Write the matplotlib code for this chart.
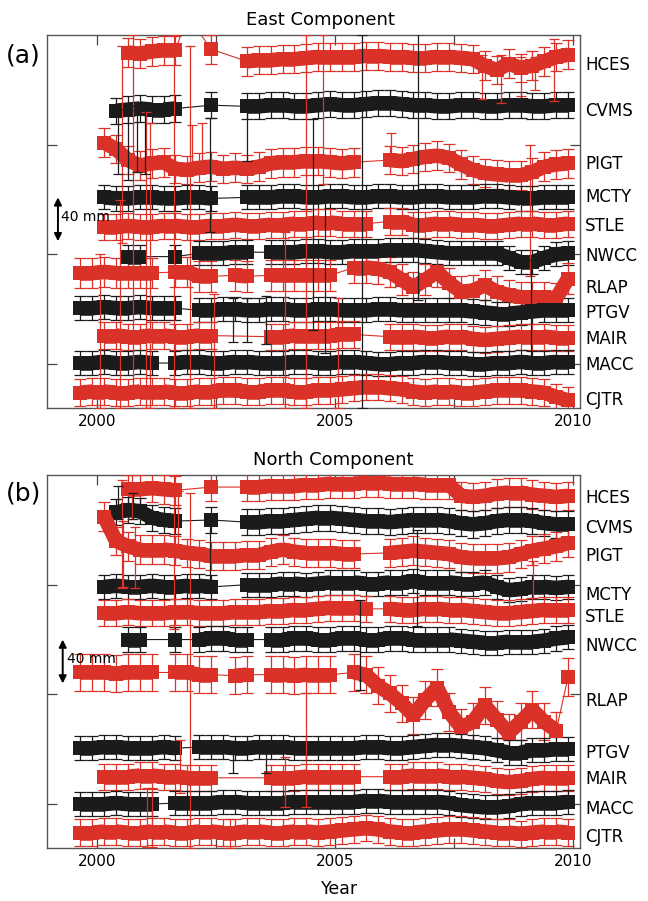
import matplotlib.pyplot as plt
import numpy as np
from matplotlib.collections import LineCollection
from matplotlib.transforms import blended_transform_factory

N = None

# common epochs of the plotted daily-solution blocks (decimal year)
epochs = [1999.40, 1999.65, 1999.90, 2000.15, 2000.40, 2000.65, 2000.90, 2001.15, 2001.40, 2001.65, 2001.90,
          2002.15, 2002.40, 2002.65, 2002.90, 2003.15, 2003.40, 2003.65, 2003.90, 2004.15, 2004.40, 2004.65,
          2004.90, 2005.15, 2005.40, 2005.65, 2005.90, 2006.15, 2006.40, 2006.65, 2006.90, 2007.15, 2007.40,
          2007.65, 2007.90, 2008.15, 2008.40, 2008.65, 2008.90, 2009.15, 2009.40, 2009.65, 2009.90]

stations = ['HCES', 'CVMS', 'PIGT', 'MCTY', 'STLE', 'NWCC', 'RLAP', 'PTGV', 'MAIR', 'MACC', 'CJTR']
station_colors = ['r', 'k', 'r', 'k', 'r', 'k', 'r', 'k', 'r', 'k', 'r']

# typical formal error of a block (mm)
east_sigma = [13, 12, 13, 11, 12, 11, 14, 11, 12, 11, 12]
north_sigma = [13, 12, 13, 11, 12, 11, 17, 11, 12, 11, 12]

# ---- East component (offset time series, mm) ----
hces_e = [N, N, N, N, N, 284, 283, 285, 286, 286, 318,
          N, 287, N, N, 276, 277, 277, 278, 278, 279, 280,
          280, 280, 280, 281, 281, 280, 280, 279, 279, 280, 280,
          279, 278, 272, 268, 274, 270, 272, 276, 280, 282]
cvms_e = [N, N, N, N, 231, 232, 233, 232, 232, 233, N,
          N, 236, N, N, 235, 235, 236, 236, 235, 235, 236,
          237, 236, 236, 237, 238, 238, 237, 236, 236, 235, 235,
          236, 236, 235, 235, 236, 236, 235, 235, 236, 236]
pigt_e = [N, N, N, 202, 196, 186, 181, 183, 184, 178, 177,
          179, 180, 178, 179, 178, 180, 183, 184, 184, 185, 185,
          184, 183, 184, N, N, 186, 185, 187, 189, 190, 188,
          182, 177, 174, 173, 172, 172, 175, 180, 182, 183]
mcty_e = [N, N, N, 152, 151, 151, 152, 152, 151, 151, 152,
          152, 151, N, N, 152, 152, 152, 153, 153, 152, 152,
          153, 153, 152, 152, 153, 153, 152, 152, 153, 153, 152,
          152, 152, 153, 153, 152, 151, 151, 152, 152, 152]
stle_e = [N, N, N, 125, 125, 126, 125, 125, 126, 126, 125,
          125, 126, 126, 127, 126, 126, 127, 127, 128, 128, 129,
          129, 128, 128, 128, N, 130, 130, 127, 127, 128, 128,
          127, 127, 126, 126, 127, 128, 128, 127, 127, 128]
nwcc_e = [N, N, N, N, N, 98, 98, N, N, 98, N,
          101, 101, 101, 102, 102, N, 102, 102, 102, 103, 103,
          102, 102, 103, 103, 103, 104, 104, 104, 103, 102, 101,
          101, 101, 101, 101, 97, 93, 93, 97, 100, 101]
rlap_e = [N, 83, 83, 84, 83, 83, 83, 83, N, 84, 84,
          80, 80, N, 81, 80, N, 81, 81, 81, 81, 81,
          81, N, 88, 88, 87, 84, 77, 70, 77, 84, 74,
          66, 67, 72, 66, 63, 61, 61, 61, 60, 78]
ptgv_e = [N, 51, 51, 52, 51, 51, 52, 51, 51, 51, N,
          49, 49, 50, 50, 49, 49, 50, 50, 49, 49, 50,
          50, 49, 49, 49, 50, 50, 49, 49, 49, 49, 49,
          49, 48, 47, 46, 46, 47, 48, 49, 49, 49]
mair_e = [N, N, N, 26, 26, 25, 25, 26, 26, 25, 25,
          26, 26, N, N, N, N, 25, 25, 26, 26, 26,
          26, 27, 27, N, N, 25, 25, 25, 24, 24, 25,
          25, 23, 22, 23, 24, 25, 25, 25, 24, 24]
macc_e = [N, 1, 1, 2, 1, 1, 2, 1, N, 1, 2,
          2, 1, 1, 2, 2, 1, 1, 1, 2, 2, 1,
          1, 2, 2, 1, 0, 0, 1, 1, 2, 2, 1,
          1, 0, 0, 1, 1, 2, 1, 1, 2, 2]
cjtr_e = [N, -26, -25, -25, -26, -26, -25, -25, -25, -26, -26,
          -25, -25, -24, -24, -25, -25, -24, -24, -25, -25, -24,
          -24, -23, -22, -21, -21, -22, -23, -25, -26, -25, -25,
          -26, -26, -25, -24, -24, -24, -25, -26, -30, -33]

# ---- North component (offset time series, mm) ----
hces_n = [N, N, N, N, N, 287, 287, 288, 287, 286, N,
          N, 289, N, N, 289, 289, 290, 290, 290, 291, 291,
          292, 292, 292, 293, 293, 292, 292, 292, 291, 291, 291,
          281, 280, 281, 283, 284, 284, 282, 281, 280, 281]
cvms_n = [N, N, N, N, 266, 268, 267, 261, 259, 258, N,
          N, 259, N, N, 257, 257, 258, 258, 259, 260, 261,
          261, 260, 259, 258, 258, 257, 258, 259, 259, 259, 258,
          256, 255, 256, 258, 259, 259, 258, 256, 255, 255]
pigt_n = [N, N, N, 262, 240, 235, 232, 232, 232, 231, 229,
          228, 226, 226, 226, 227, 227, 230, 232, 230, 229, 229,
          229, 228, 228, N, N, 229, 230, 231, 230, 229, 228,
          225, 224, 224, 224, 225, 228, 231, 233, 235, 238]
mcty_n = [N, N, N, 198, 199, 198, 198, 199, 198, 198, 199,
          199, 198, N, N, 200, 200, 200, 201, 201, 200, 201,
          202, 202, 202, 201, 201, 202, 202, 203, 202, 202, 202,
          201, 201, 202, 198, 195, 196, 198, 198, 197, 198]
stle_n = [N, N, N, 174, 174, 175, 174, 174, 174, 175, 175,
          174, 174, 174, 175, 175, 175, 176, 176, 177, 177, 178,
          179, 179, 179, 178, N, 178, 177, 177, 178, 178, 177,
          177, 176, 175, 174, 174, 175, 176, 177, 177, 177]
nwcc_n = [N, N, N, N, N, 150, 150, N, N, 150, N,
          150, 151, 151, 150, 150, N, 150, 150, 151, 151, 150,
          150, 151, 151, 150, 150, 151, 151, 150, 150, 150, 150,
          149, 148, 147, 147, 148, 148, 148, 149, 151, 152]
rlap_n = [N, 120, 120, 120, 119, 120, 120, 120, N, 120, 120,
          118, 118, N, 117, 118, N, 118, 118, 117, 118, 118,
          118, N, 120, 118, 108, 101, 92, 81, 95, 106, 84,
          70, 75, 90, 77, 65, 75, 86, 75, 67, 116]
ptgv_n = [N, 51, 51, 52, 52, 51, 51, 51, 52, 51, N,
          52, 52, 52, 51, 51, 52, 52, 52, 51, 51, 51,
          51, 51, 51, 52, 52, 51, 51, 52, 53, 54, 54,
          53, 52, 51, 49, 47, 47, 49, 49, 50, 50]
mair_n = [N, N, N, 25, 25, 25, 26, 26, 25, 25, 24,
          24, 24, N, N, N, N, 24, 24, 24, 25, 25,
          25, 25, 25, N, N, 25, 25, 26, 26, 26, 25,
          25, 24, 23, 21, 20, 21, 23, 24, 24, 24]
macc_n = [N, 0, 0, 0, 1, 0, 0, 0, N, 1, 1,
          1, 1, 2, 2, 1, 1, 1, 1, 2, 2, 2,
          2, 2, 2, 3, 3, 2, 2, 2, 2, 2, 1,
          -1, -2, -3, -3, -2, 0, 1, 1, 1, 2]
cjtr_n = [N, -26, -26, -25, -25, -26, -26, -25, -25, -26, -26,
          -25, -25, -26, -26, -25, -25, -26, -26, -25, -25, -26,
          -25, -24, -23, -22, -23, -25, -26, -26, -25, -24, -23,
          -23, -24, -25, -26, -26, -27, -26, -25, -25, -26]

east_series = [hces_e, cvms_e, pigt_e, mcty_e, stle_e, nwcc_e, rlap_e, ptgv_e, mair_e, macc_e, cjtr_e]
north_series = [hces_n, cvms_n, pigt_n, mcty_n, stle_n, nwcc_n, rlap_n, ptgv_n, mair_n, macc_n, cjtr_n]

# label heights (mm) at the right of each panel
east_label_mm = [273, 231, 182, 152, 126, 99, 69, 47, 23, -1, -33]
north_label_mm = [279, 252, 226, 191, 171, 144, 94, 47, 23, -4, -30]

# outlier solutions with large formal errors: epoch, centre (mm), half length (mm), colour
east_spike_t = [2000.06, 2000.48, 2000.52, 2000.75, 2001.02, 2001.12, 2001.62, 2001.95, 2002.45, 2003.95,
                2004.40, 2004.54, 2004.79, 2004.75, 2005.57, 2006.75, 2005.07, 2002.37, 2003.15, 2009.10,
                2009.60, 2002.85, 2003.15, 2003.55, 2000.45, 2000.65, 2000.85, 2001.00, 2008.10, 2008.50,
                2008.90, 2009.20, 2002.00, 2002.20, 2006.17, 2009.12]
east_spike_mid = [30, 55, 200, 138, 95, 90, 130, 125, 12, 40,
                  130, 127, 80, 232, 130, 180, 10, 172, 210, 140,
                  268, 40, 40, 40, 203, 200, 205, 203, 262, 260,
                  262, 265, 198, 200, 200, 46]
east_spike_half = [70, 95, 90, 162, 135, 130, 170, 165, 52, 80,
                   170, 96, 70, 68, 170, 122, 50, 52, 25, 60,
                   28, 20, 20, 22, 30, 32, 30, 30, 20, 22,
                   18, 15, 20, 20, 11, 49]
east_spike_c = ['r', 'r', 'r', 'r', 'r', 'r', 'r', 'r', 'r', 'r',
                'r', 'k', 'k', 'r', 'k', 'k', 'r', 'k', 'k', 'r',
                'r', 'k', 'k', 'k', 'k', 'k', 'k', 'k', 'r', 'r',
                'r', 'r', 'r', 'r', 'r', 'k']

north_spike_t = [2001.95, 2001.62, 2000.52, 2000.73, 2001.75, 2001.05, 2001.15, 2004.40, 2003.95, 2002.80,
                 2002.85, 2003.55, 2002.37, 2005.53, 2006.72, 2009.16, 2001.70, 2000.55, 2000.80, 2000.45,
                 2000.75]
north_spike_mid = [122, 230, 246, 280, 34, -12, -12, 49, 20, -27,
                   40, 40, 230, 145, 206, 205, 255, 228, 225, 275,
                   272]
north_spike_half = [162, 70, 49, 20, 24, 27, 27, 52, 23, 13,
                    12, 12, 26, 41, 44, 17, 30, 30, 28, 15,
                    12]
north_spike_c = ['r', 'r', 'r', 'r', 'r', 'r', 'r', 'r', 'r', 'r',
                 'k', 'k', 'k', 'k', 'k', 'r', 'r', 'r', 'r', 'k',
                 'k']

RED = '#da3229'
BLACK = '#1b1b1b'
COLORS = {'r': RED, 'k': BLACK}
BAND_PT = 10.5      # thickness of the dense band
JUMP_MM = 25        # larger steps are only joined by the thin line


def draw_panel(ax, series, sigma, label_mm, sp_t, sp_mid, sp_half, sp_c):
    t = np.array(epochs)
    for vals, code, err in zip(series, station_colors, sigma):
        c = COLORS[code]
        v = np.array([np.nan if x is None else x for x in vals], dtype=float)
        ok = ~np.isnan(v)
        # thin line through gaps
        ax.plot(t[ok], v[ok], color=c, lw=0.8, zorder=2)
        # error bars of each block
        ax.errorbar(t, v, yerr=err, fmt='none', ecolor=c, elinewidth=0.9,
                    capsize=4, capthick=0.9, zorder=3)
        # the dense band: segments between neighbouring blocks
        segs = []
        for i in range(len(t) - 1):
            if ok[i] and ok[i + 1] and abs(v[i + 1] - v[i]) <= JUMP_MM:
                segs.append([(t[i], v[i]), (t[i + 1], v[i + 1])])
        lc = LineCollection(segs, colors=c, linewidths=BAND_PT, capstyle='butt', zorder=4)
        ax.add_collection(lc)
        ax.plot(t[ok], v[ok], ls='none', marker='s', ms=BAND_PT, mfc=c, mec=c, mew=0, zorder=4)

    for code in ['r', 'k']:
        idx = [i for i, cc in enumerate(sp_c) if cc == code]
        ax.errorbar([sp_t[i] for i in idx], [sp_mid[i] for i in idx],
                    yerr=[sp_half[i] for i in idx], fmt='none', ecolor=COLORS[code],
                    elinewidth=0.9, capsize=3.5, capthick=0.9, zorder=5)

    trans = blended_transform_factory(ax.transAxes, ax.transData)
    for name, y in zip(stations, label_mm):
        ax.text(1.01, y, name, transform=trans, fontsize=12, ha='left', va='center')

    ax.set_xlim(1998.95, 2010.15)
    ax.set_ylim(-40, 300)
    ax.set_xticks([2000, 2005, 2010])
    ax.set_xticks([2002.5, 2007.5], minor=True)
    ax.set_yticks([0, 100, 200])
    ax.set_yticklabels([])
    ax.tick_params(which='both', direction='in', top=True, right=True,
                   length=7, width=0.9, color='#444444', labelsize=11, pad=4)
    for s in ax.spines.values():
        s.set_linewidth(1.0)
        s.set_color('#555555')


fig = plt.figure(figsize=(6.48, 9.01), dpi=100)
ax_a = fig.add_axes([47 / 648, 1 - 408 / 901, 533 / 648, 373 / 901])
ax_b = fig.add_axes([47 / 648, 1 - 848 / 901, 533 / 648, 373 / 901])

draw_panel(ax_a, east_series, east_sigma, east_label_mm,
           east_spike_t, east_spike_mid, east_spike_half, east_spike_c)
draw_panel(ax_b, north_series, north_sigma, north_label_mm,
           north_spike_t, north_spike_mid, north_spike_half, north_spike_c)

# 40 mm scale arrows
scale_mm = 40
for ax, xa, ya, xt, yt in [(ax_a, 1999.18, 112, 1999.24, 134), (ax_b, 1999.28, 110, 1999.36, 132)]:
    ax.annotate('', xy=(xa, ya + scale_mm), xytext=(xa, ya),
                arrowprops=dict(arrowstyle='<|-|>', color='k', lw=1.4,
                                mutation_scale=11, shrinkA=0, shrinkB=0), zorder=6)
    ax.text(xt, yt, '%d mm' % scale_mm, fontsize=10, ha='left', va='center', zorder=6)

fig.text(320 / 648, 1 - 20 / 901, 'East Component', fontsize=13, ha='center', va='center')
fig.text(333 / 648, 1 - 460 / 901, 'North Component', fontsize=13, ha='center', va='center')
fig.text(6 / 648, 1 - 55 / 901, '(a)', fontsize=18, ha='left', va='center')
fig.text(6 / 648, 1 - 493 / 901, '(b)', fontsize=18, ha='left', va='center')
fig.text(340 / 648, 1 - 889 / 901, 'Year', fontsize=12.5, ha='center', va='center')

fig.savefig('out.png', dpi=100)
